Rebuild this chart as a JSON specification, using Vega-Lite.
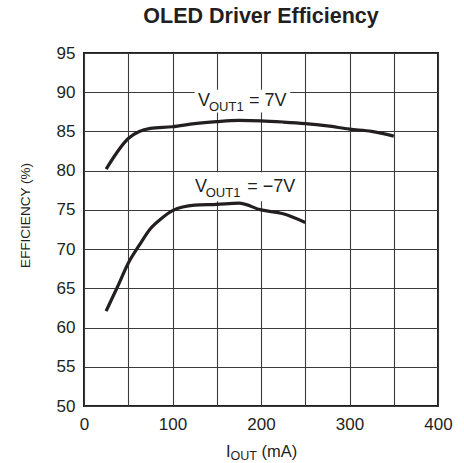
{
  "$schema": "https://vega.github.io/schema/vega-lite/v6.json",
  "width": 354,
  "height": 353,
  "autosize": {"type": "none"},
  "padding": {"left": 84, "top": 53, "right": 26, "bottom": 57},
  "background": "white",
  "config": {
    "font": "Liberation Sans, Arial, sans-serif",
    "view": {"stroke": "#231f20", "strokeWidth": 2},
    "axis": {
      "domain": false,
      "ticks": false,
      "grid": true,
      "gridColor": "#3a3a3a",
      "gridWidth": 1.1,
      "gridOpacity": 1,
      "labelColor": "#231f20",
      "labelFontSize": 17,
      "labelOverlap": false,
      "labelFont": "Liberation Sans, Arial, sans-serif",
      "titleColor": "#231f20",
      "titleFont": "Liberation Sans, Arial, sans-serif",
      "titleFontWeight": "normal"
    }
  },
  "title": {
    "text": "OLED Driver Efficiency",
    "fontSize": 21.5,
    "fontWeight": "bold",
    "color": "#231f20",
    "font": "Liberation Sans, Arial, sans-serif",
    "anchor": "middle",
    "offset": 17
  },
  "datasets": {
    "curves": [
      {"series": "7V", "I": 25, "E": 80.2},
      {"series": "7V", "I": 50, "E": 84.1},
      {"series": "7V", "I": 75, "E": 85.4},
      {"series": "7V", "I": 100, "E": 85.6},
      {"series": "7V", "I": 125, "E": 86.0},
      {"series": "7V", "I": 150, "E": 86.25},
      {"series": "7V", "I": 175, "E": 86.4},
      {"series": "7V", "I": 200, "E": 86.35},
      {"series": "7V", "I": 225, "E": 86.2},
      {"series": "7V", "I": 250, "E": 86.0},
      {"series": "7V", "I": 275, "E": 85.7},
      {"series": "7V", "I": 300, "E": 85.3},
      {"series": "7V", "I": 325, "E": 85.0},
      {"series": "7V", "I": 350, "E": 84.4},
      {"series": "-7V", "I": 25, "E": 62.1},
      {"series": "-7V", "I": 37.5, "E": 65.1},
      {"series": "-7V", "I": 50, "E": 68.2},
      {"series": "-7V", "I": 62.5, "E": 70.5},
      {"series": "-7V", "I": 75, "E": 72.6},
      {"series": "-7V", "I": 87.5, "E": 73.9},
      {"series": "-7V", "I": 100, "E": 74.9},
      {"series": "-7V", "I": 125, "E": 75.6},
      {"series": "-7V", "I": 150, "E": 75.7},
      {"series": "-7V", "I": 175, "E": 75.85},
      {"series": "-7V", "I": 200, "E": 75.0},
      {"series": "-7V", "I": 225, "E": 74.5},
      {"series": "-7V", "I": 250, "E": 73.4}
    ],
    "boxes": [
      {"series": "7V", "I": 125, "I2": 233, "E": 87.4, "E2": 90.3},
      {"series": "-7V", "I": 125, "I2": 233, "E": 76.1, "E2": 79.8}
    ],
    "labels": [
      {"series": "7V", "part": "main", "text": "V", "I": 128.8, "E": 88.18},
      {"series": "7V", "part": "sub", "text": "OUT1", "I": 141.2, "E": 87.63},
      {"series": "7V", "part": "main", "text": "= 7V", "I": 186.4, "E": 88.18},
      {"series": "-7V", "part": "main", "text": "V", "I": 125.4, "E": 77.33},
      {"series": "-7V", "part": "sub", "text": "OUT1", "I": 137.5, "E": 76.7},
      {"series": "-7V", "part": "main", "text": "= −7V", "I": 184.5, "E": 77.33}
    ],
    "xtitle": [
      {"part": "main", "text": "I", "I": 160.5, "E": 50},
      {"part": "sub", "text": "OUT", "I": 165.5, "E": 50},
      {"part": "main", "text": "(mA)", "I": 200.5, "E": 50}
    ]
  },
  "encoding": {
    "x": {"field": "I", "type": "quantitative", "scale": {"domain": [0, 400], "nice": false},
      "axis": {"values": [0, 50, 100, 150, 200, 250, 300, 350, 400], "labelExpr": "datum.value % 100 === 0 ? datum.label : ''", "title": null, "labelPadding": 10, "labelFlush": false}},
    "y": {"field": "E", "type": "quantitative", "scale": {"domain": [50, 95], "nice": false, "zero": false},
      "axis": {"values": [50, 55, 60, 65, 70, 75, 80, 85, 90, 95], "tickCount": 10, "title": "EFFICIENCY (%)", "titleFontSize": 13.5, "labelPadding": 9, "titlePadding": 24, "titleY": 162, "labelFlush": false}}
  },
  "layer": [
    {
      "data": {"name": "boxes"},
      "mark": {"type": "rect", "fill": "white", "stroke": null},
      "encoding": {
        "x2": {"field": "I2"},
        "y2": {"field": "E2"}
      }
    },
    {
      "data": {"name": "labels"},
      "transform": [{"filter": "datum.part === 'main'"}],
      "mark": {"type": "text", "align": "left", "baseline": "alphabetic", "fontSize": 18, "color": "#231f20"},
      "encoding": {"text": {"field": "text"}}
    },
    {
      "data": {"name": "labels"},
      "transform": [{"filter": "datum.part === 'sub'"}],
      "mark": {"type": "text", "align": "left", "baseline": "alphabetic", "fontSize": 13, "color": "#231f20"},
      "encoding": {"text": {"field": "text"}}
    },
    {
      "data": {"name": "curves"},
      "mark": {"type": "line", "color": "#231f20", "strokeWidth": 3.2, "interpolate": "monotone", "strokeCap": "butt"},
      "encoding": {"detail": {"field": "series"}}
    },
    {
      "data": {"name": "xtitle"},
      "transform": [{"filter": "datum.part === 'main'"}],
      "mark": {"type": "text", "align": "left", "baseline": "alphabetic", "fontSize": 16.5, "color": "#231f20", "dy": 51},
      "encoding": {"text": {"field": "text"}}
    },
    {
      "data": {"name": "xtitle"},
      "transform": [{"filter": "datum.part === 'sub'"}],
      "mark": {"type": "text", "align": "left", "baseline": "alphabetic", "fontSize": 12.5, "color": "#231f20", "dy": 53.5},
      "encoding": {"text": {"field": "text"}}
    }
  ]
}
